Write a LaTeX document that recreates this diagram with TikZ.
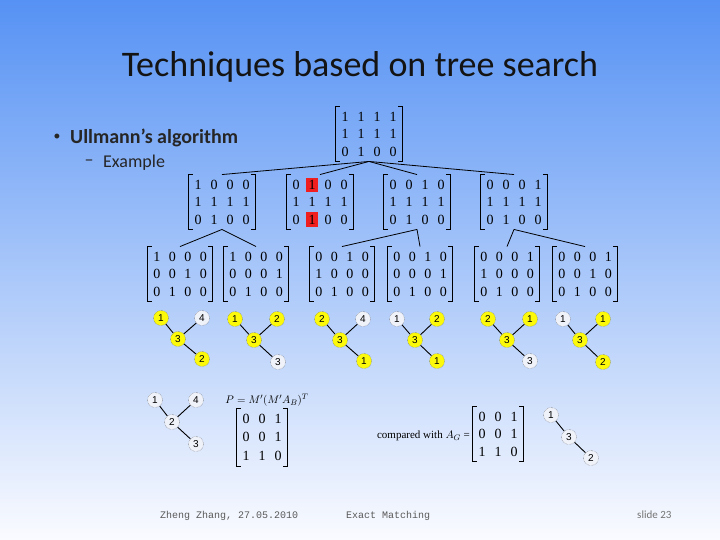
\documentclass[tikz,border=0pt]{standalone}
\usepackage{fontspec}
\setmainfont{Liberation Serif}
\newfontfamily\calibri{Carlito}
\newfontfamily\monof{Liberation Mono}
\newfontfamily\arialf{Liberation Sans}
\usetikzlibrary{matrix}
\definecolor{bgtop}{RGB}{86,146,244}
\definecolor{bgmid}{RGB}{188,211,250}
\definecolor{bgbot}{RGB}{250,251,255}
\definecolor{nodeyel}{RGB}{252,250,10}
\definecolor{nodewht}{RGB}{240,242,250}
\definecolor{hlred}{RGB}{240,30,30}
\newcommand{\brk}[1]{%
  \draw[brkline] ([xshift=4pt]#1.north west) -- (#1.north west) -- (#1.south west) -- ([xshift=4pt]#1.south west);
  \draw[brkline] ([xshift=-4pt]#1.north east) -- (#1.north east) -- (#1.south east) -- ([xshift=-4pt]#1.south east);}
\tikzset{
  mat/.style={matrix of nodes, inner sep=1pt,
    nodes={font=\fontsize{14}{14}\selectfont, inner sep=0pt, minimum width=16pt, minimum height=17.5pt, anchor=center}},
  matn/.style={mat, nodes={minimum width=15.5pt}},
  brkline/.style={line width=0.7pt, black},
  conn/.style={line width=0.8pt, black},
  hl/.style={fill=hlred, minimum width=12pt, minimum height=14pt},
  gnode/.style={circle, draw=gray!70!black, densely dotted, fill=nodeyel, minimum size=15pt, inner sep=0pt, font=\arialf\fontsize{10}{10}\selectfont},
  wnode/.style={gnode, fill=nodewht},
  gedge/.style={solid, line width=0.9pt, black}
}
\begin{document}
\begin{tikzpicture}[x=1pt,y=-1pt]
\shade[top color=bgtop, middle color=bgmid, bottom color=bgbot] (0,0) rectangle (720,540);
\useasboundingbox (0,0) rectangle (720,540);

% title and bullets
\node[font=\calibri\fontsize{36}{40}\selectfont, text=black!92] (title) at (360,67) {Techniques based on tree search};
\node[font=\arialf\fontsize{18}{18}\selectfont, text=black!85] (bul) at (57,138) {•};
\node[font=\calibri\bfseries\fontsize{20}{24}\selectfont, text=black!85, anchor=west, inner sep=0pt] (b1) at (70,138) {Ullmann’s algorithm};
\node[font=\calibri\fontsize{18}{22}\selectfont, text=black!85, inner sep=0pt] (dash) at (89,163) {–};
\node[font=\calibri\fontsize{18}{22}\selectfont, text=black!85, anchor=west, inner sep=0pt] (b2) at (103,163) {Example};

% level 1
\matrix (T) [mat] at (369,134) {1 & 1 & 1 & 1\\ 1 & 1 & 1 & 1\\ 0 & 1 & 0 & 0\\};
\brk{T}
% level 2
\matrix (A) [mat] at (222,202) {1 & 0 & 0 & 0\\ 1 & 1 & 1 & 1\\ 0 & 1 & 0 & 0\\};
\matrix (B) [mat] at (320,202) {0 & |[hl]| 1 & 0 & 0\\ 1 & 1 & 1 & 1\\ 0 & |[hl]| 1 & 0 & 0\\};
\matrix (C) [mat] at (417,202) {0 & 0 & 1 & 0\\ 1 & 1 & 1 & 1\\ 0 & 1 & 0 & 0\\};
\matrix (D) [mat] at (514,202) {0 & 0 & 0 & 1\\ 1 & 1 & 1 & 1\\ 0 & 1 & 0 & 0\\};
\brk{A}\brk{B}\brk{C}\brk{D}
% level 3
\matrix (E1) [matn] at (180,274) {1 & 0 & 0 & 0\\ 0 & 0 & 1 & 0\\ 0 & 1 & 0 & 0\\};
\matrix (E2) [matn] at (256,274) {1 & 0 & 0 & 0\\ 0 & 0 & 0 & 1\\ 0 & 1 & 0 & 0\\};
\matrix (E3) [matn] at (342,274) {0 & 0 & 1 & 0\\ 1 & 0 & 0 & 0\\ 0 & 1 & 0 & 0\\};
\matrix (E4) [matn] at (420,274) {0 & 0 & 1 & 0\\ 0 & 0 & 0 & 1\\ 0 & 1 & 0 & 0\\};
\matrix (E5) [matn] at (507,274) {0 & 0 & 0 & 1\\ 1 & 0 & 0 & 0\\ 0 & 1 & 0 & 0\\};
\matrix (E6) [matn] at (585,274) {0 & 0 & 0 & 1\\ 0 & 0 & 1 & 0\\ 0 & 1 & 0 & 0\\};
\brk{E1}\brk{E2}\brk{E3}\brk{E4}\brk{E5}\brk{E6}

% tree connectors
\draw[conn] (T.south) -- (A.north);
\draw[conn] (T.south) -- (B.north);
\draw[conn] (T.south) -- (C.north);
\draw[conn] (T.south) -- (D.north);
\draw[conn] (A.south) -- (E1.north);
\draw[conn] (A.south) -- (E2.north);
\draw[conn] (C.south) -- (E3.north);
\draw[conn] (C.south) -- (E4.north);
\draw[conn] (D.south) -- (E5.north);
\draw[conn] (D.south) -- (E6.north);

% small graphs
\node[gnode] (g1a) at (161,318) {1};
\node[wnode] (g1b) at (202,318) {4};
\node[gnode] (g1c) at (178,339) {3};
\node[gnode] (g1d) at (202,359) {2};
\draw[gedge] (g1a) -- (g1c); \draw[gedge] (g1b) -- (g1c); \draw[gedge] (g1c) -- (g1d);

\node[gnode] (g2a) at (235,319) {1};
\node[gnode] (g2b) at (277,319) {2};
\node[gnode] (g2c) at (254,340) {3};
\node[wnode] (g2d) at (278,362) {3};
\draw[gedge] (g2a) -- (g2c); \draw[gedge] (g2b) -- (g2c); \draw[gedge] (g2c) -- (g2d);

\node[gnode] (g3a) at (322,319) {2};
\node[wnode] (g3b) at (363,319) {4};
\node[gnode] (g3c) at (340,340) {3};
\node[gnode] (g3d) at (364,361) {1};
\draw[gedge] (g3a) -- (g3c); \draw[gedge] (g3b) -- (g3c); \draw[gedge] (g3c) -- (g3d);

\node[wnode] (g4a) at (397,319) {1};
\node[gnode] (g4b) at (437,319) {2};
\node[gnode] (g4c) at (415,340) {3};
\node[gnode] (g4d) at (437,361) {1};
\draw[gedge] (g4a) -- (g4c); \draw[gedge] (g4b) -- (g4c); \draw[gedge] (g4c) -- (g4d);

\node[gnode] (g5a) at (488,319) {2};
\node[gnode] (g5b) at (530,319) {1};
\node[gnode] (g5c) at (507,340) {3};
\node[wnode] (g5d) at (530,361) {3};
\draw[gedge] (g5a) -- (g5c); \draw[gedge] (g5b) -- (g5c); \draw[gedge] (g5c) -- (g5d);

\node[wnode] (g6a) at (563,319) {1};
\node[gnode] (g6b) at (603,319) {1};
\node[gnode] (g6c) at (580,340) {3};
\node[gnode] (g6d) at (603,362) {2};
\draw[gedge] (g6a) -- (g6c); \draw[gedge] (g6b) -- (g6c); \draw[gedge] (g6c) -- (g6d);

% bottom left graph
\node[wnode] (h1) at (155,400) {1};
\node[wnode] (h4) at (196,400) {4};
\node[wnode] (h2) at (172,422) {2};
\node[wnode] (h3) at (196,444) {3};
\draw[gedge] (h1) -- (h2); \draw[gedge] (h4) -- (h2); \draw[gedge] (h2) -- (h3);

% formula and P matrix
\node[font=\fontsize{11}{11}\selectfont] (form) at (267,400) {$P = M'(M'A_B)^T$};
\matrix (P) [mat, nodes={minimum height=18.5pt}] at (262,437) {0 & 0 & 1\\ 0 & 0 & 1\\ 1 & 1 & 0\\};
\brk{P}

% compared with A_G
\node[font=\fontsize{11}{11}\selectfont, anchor=east, inner sep=0pt] (cmp) at (470,436) {compared with $A_G$ =};
\matrix (G) [mat] at (498,434) {0 & 0 & 1\\ 0 & 0 & 1\\ 1 & 1 & 0\\};
\brk{G}
\node[wnode] (k1) at (551,415) {1};
\node[wnode] (k3) at (569,437) {3};
\node[wnode] (k2) at (591,458) {2};
\draw[gedge] (k1) -- (k3); \draw[gedge] (k3) -- (k2);

% footer
\node[font=\monof\fontsize{10}{10}\selectfont, text=black!65, anchor=west, inner sep=0pt] (f1) at (160,516) {Zheng Zhang, 27.05.2010};
\node[font=\monof\fontsize{10}{10}\selectfont, text=black!65, anchor=west, inner sep=0pt] (f2) at (346,516) {Exact Matching};
\node[font=\calibri\fontsize{11}{11}\selectfont, text=black!55, anchor=west, inner sep=0pt] (f3) at (637,515) {slide 23};
\end{tikzpicture}
\end{document}
